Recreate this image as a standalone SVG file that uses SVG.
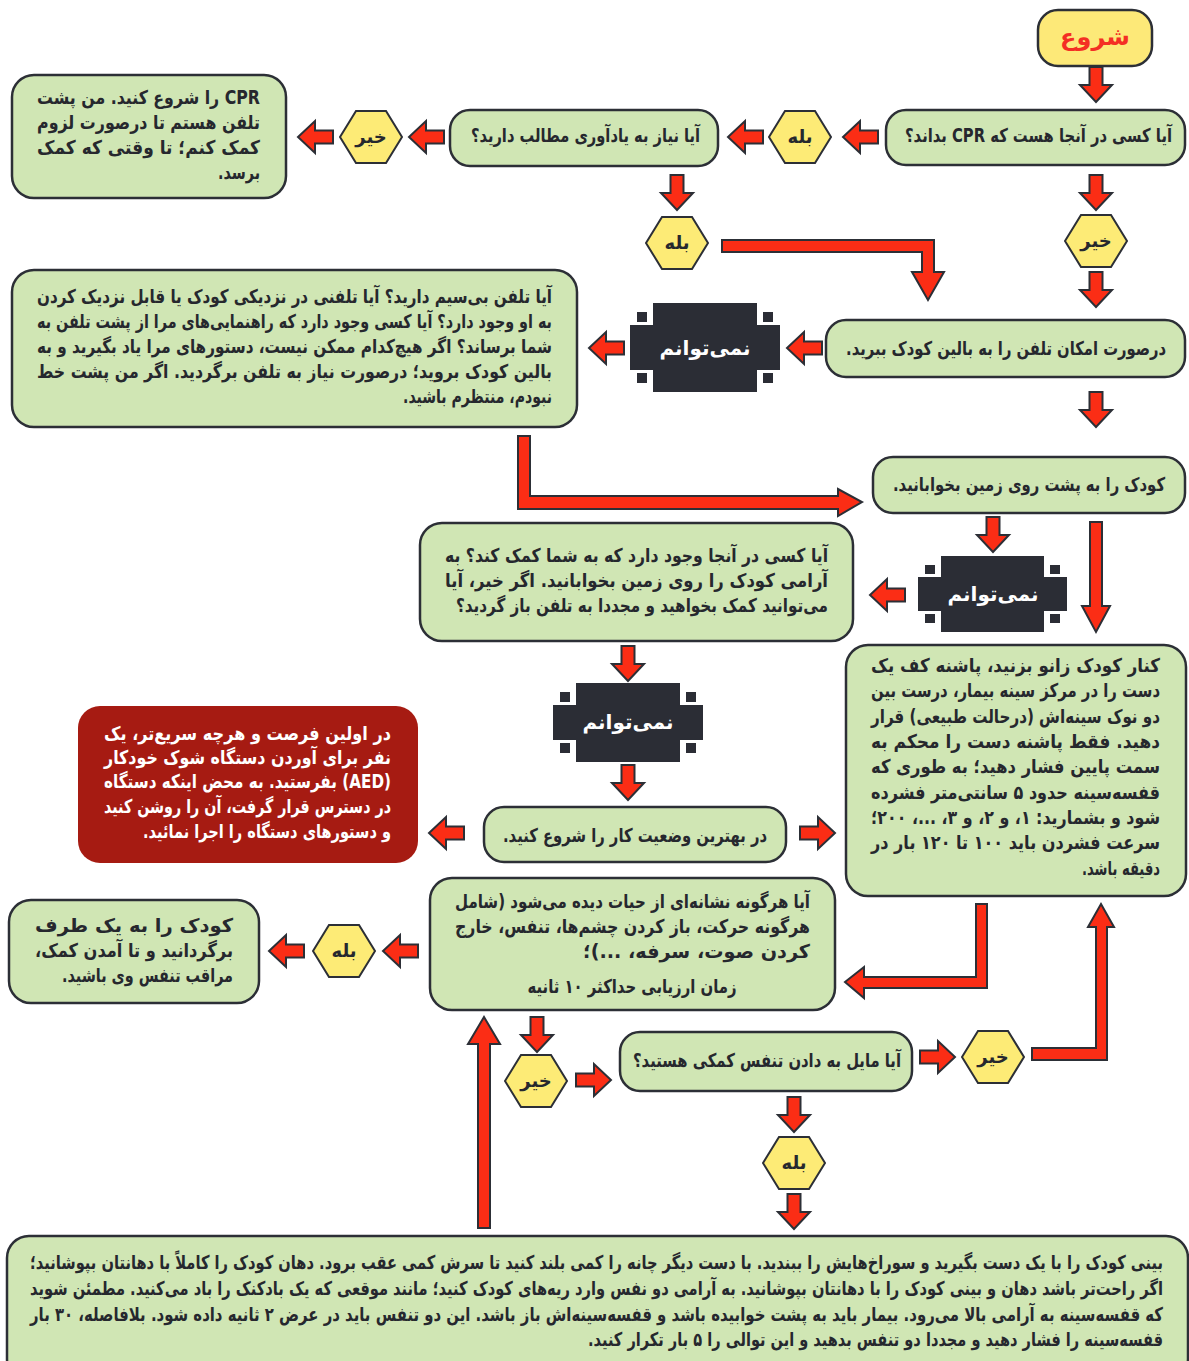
<svg xmlns="http://www.w3.org/2000/svg" xmlns:xlink="http://www.w3.org/1999/xlink" width="1189" height="1361" viewBox="0 0 1189 1361">
<style>
.box{fill:#d0e6b4;stroke:#2c2f36;stroke-width:2.5}
.hex{fill:#fdeb76;stroke:#2c2f36;stroke-width:2}
.dark{fill:#2b2d35}
.ar{fill:#fb2d15;stroke:#2c2f36;stroke-width:2;stroke-linejoin:miter}
.t{font-family:'DejaVu Sans',sans-serif;font-weight:bold;fill:#26282e;direction:rtl}
.p{font-size:19px}
.l{font-size:19px}
.w{fill:#ffffff}
.c{text-anchor:middle}
</style>
<defs>
<path id="arr" d="M0,-6.5 H18 V-16 L35,0 L18,16 V6.5 H0 Z"/>
<polygon id="hx" points="-31,0 -15,-26 15,-26 31,0 15,26 -15,26"/>
</defs>
<rect width="1189" height="1361" fill="#ffffff"/>

<g id="connectors">
<use xlink:href="#arr" class="ar" transform="translate(1096,67) rotate(90)"/>
<use xlink:href="#arr" class="ar" transform="translate(878,137) rotate(180)"/>
<use xlink:href="#arr" class="ar" transform="translate(763,137) rotate(180)"/>
<use xlink:href="#arr" class="ar" transform="translate(444,137) rotate(180)"/>
<use xlink:href="#arr" class="ar" transform="translate(333,137) rotate(180)"/>
<use xlink:href="#arr" class="ar" transform="translate(677,175) rotate(90)"/>
<use xlink:href="#arr" class="ar" transform="translate(1096,175) rotate(90)"/>
<use xlink:href="#arr" class="ar" transform="translate(1096,272) rotate(90)"/>
<use xlink:href="#arr" class="ar" transform="translate(822,348) rotate(180)"/>
<use xlink:href="#arr" class="ar" transform="translate(624,348) rotate(180)"/>
<use xlink:href="#arr" class="ar" transform="translate(1096,392) rotate(90)"/>
<use xlink:href="#arr" class="ar" transform="translate(993,517) rotate(90)"/>
<use xlink:href="#arr" class="ar" transform="translate(905,595) rotate(180)"/>
<use xlink:href="#arr" class="ar" transform="translate(628,646) rotate(90)"/>
<use xlink:href="#arr" class="ar" transform="translate(628,765) rotate(90)"/>
<use xlink:href="#arr" class="ar" transform="translate(464,833) rotate(180)"/>
<use xlink:href="#arr" class="ar" transform="translate(800,833)"/>
<use xlink:href="#arr" class="ar" transform="translate(418,951) rotate(180)"/>
<use xlink:href="#arr" class="ar" transform="translate(304,951) rotate(180)"/>
<use xlink:href="#arr" class="ar" transform="translate(537,1017) rotate(90)"/>
<use xlink:href="#arr" class="ar" transform="translate(576,1080)"/>
<use xlink:href="#arr" class="ar" transform="translate(920,1057)"/>
<use xlink:href="#arr" class="ar" transform="translate(794,1097) rotate(90)"/>
<use xlink:href="#arr" class="ar" transform="translate(794,1194) rotate(90)"/>
<polygon class="ar" points="722,240 934,240 934,272 944,272 928,300 912,272 922,272 922,252 722,252"/>
<polygon class="ar" points="518,436 530,436 530,496 838,496 838,489 862,502 838,516 838,509 518,509"/>
<polygon class="ar" points="987,904 987,988 864,988 864,998 845,982 864,967 864,977 976,977 976,904"/>
<polygon class="ar" points="1032,1048 1096,1048 1096,927 1088,927 1101,904 1114,927 1107,927 1107,1060 1032,1060"/>
<polygon class="ar" points="1102,522 1102,606 1110,606 1096,632 1082,606 1090,606 1090,522"/>
<polygon class="ar" points="478,1228 478,1044 468,1044 484,1017 500,1044 490,1044 490,1228"/>
</g>

<g id="start">
<rect x="1038" y="10" width="114" height="56" rx="20" fill="#fde978" stroke="#2c2f36" stroke-width="2.5"/>
<text class="t c" x="1095" y="45" font-size="24" style="fill:#f42f24">شروع</text>
</g>

<g id="q-cpr">
<rect class="box" x="886" y="110" width="299" height="55" rx="20"/>
<text class="t l" transform="translate(1172,142) scale(0.72,1)" textLength="370.8" lengthAdjust="spacingAndGlyphs">آیا کسی در آنجا هست که CPR بداند؟</text>
</g>

<g id="q-remind">
<rect class="box" x="450" y="110" width="268" height="56" rx="20"/>
<text class="t l" transform="translate(700,142) scale(0.72,1)" textLength="318.1" lengthAdjust="spacingAndGlyphs">آیا نیاز به یادآوری مطالب دارید؟</text>
</g>

<g id="start-cpr">
<rect class="box" x="12" y="75" width="274" height="123" rx="22"/>
<text class="t p" transform="translate(260,104) scale(0.72,1)" textLength="309.7" lengthAdjust="spacingAndGlyphs">CPR را شروع کنید. من پشت</text>
<text class="t p" transform="translate(260,129) scale(0.72,1)" textLength="309.7" lengthAdjust="spacingAndGlyphs">تلفن هستم تا درصورت لزوم</text>
<text class="t p" transform="translate(260,154) scale(0.72,1)" textLength="309.7" lengthAdjust="spacingAndGlyphs">کمک کنم؛ تا وقتی که کمک</text>
<text class="t p" transform="translate(260,179) scale(0.72,1)" textLength="58.3" lengthAdjust="spacingAndGlyphs">برسد.</text>
</g>

<g id="hex-yes1"><use xlink:href="#hx" class="hex" x="800" y="137"/><text class="t c" x="800" y="143" font-size="18">بله</text></g>
<g id="hex-no1"><use xlink:href="#hx" class="hex" x="371" y="137"/><text class="t c" x="371" y="143" font-size="18">خیر</text></g>
<g id="hex-yes2"><use xlink:href="#hx" class="hex" x="677" y="243"/><text class="t c" x="677" y="249" font-size="18">بله</text></g>
<g id="hex-no2"><use xlink:href="#hx" class="hex" x="1096" y="241"/><text class="t c" x="1096" y="247" font-size="18">خیر</text></g>
<g id="hex-yes3"><use xlink:href="#hx" class="hex" x="344" y="951"/><text class="t c" x="344" y="957" font-size="18">بله</text></g>
<g id="hex-no3"><use xlink:href="#hx" class="hex" x="536" y="1081"/><text class="t c" x="536" y="1087" font-size="18">خیر</text></g>
<g id="hex-no4"><use xlink:href="#hx" class="hex" x="993" y="1057"/><text class="t c" x="993" y="1063" font-size="18">خیر</text></g>
<g id="hex-yes4"><use xlink:href="#hx" class="hex" x="794" y="1163"/><text class="t c" x="794" y="1169" font-size="18">بله</text></g>

<g id="phone-bed">
<rect class="box" x="826" y="320" width="359" height="57" rx="20"/>
<text class="t l" transform="translate(1166,355) scale(0.72,1)" textLength="444.4" lengthAdjust="spacingAndGlyphs">درصورت امکان تلفن را به بالین کودک ببرید.</text>
</g>

<g id="cant1">
<rect class="dark" x="653" y="303" width="104" height="89"/>
<rect class="dark" x="630" y="325" width="150" height="45"/>
<rect class="dark" x="637" y="312" width="10" height="10"/>
<rect class="dark" x="763" y="312" width="10" height="10"/>
<rect class="dark" x="637" y="373" width="10" height="10"/>
<rect class="dark" x="763" y="373" width="10" height="10"/>
<text class="t c w" x="705" y="355" font-size="20">نمی&#x200C;توانم</text>
</g>

<g id="phone-q">
<rect class="box" x="12" y="270" width="565" height="157" rx="22"/>
<text class="t p" transform="translate(552,303) scale(0.72,1)" textLength="715.3" lengthAdjust="spacingAndGlyphs">آیا تلفن بی&#x200C;سیم دارید؟ آیا تلفنی در نزدیکی کودک یا قابل نزدیک کردن</text>
<text class="t p" transform="translate(552,328) scale(0.72,1)" textLength="715.3" lengthAdjust="spacingAndGlyphs">به او وجود دارد؟ آیا کسی وجود دارد که راهنمایی&#x200C;های مرا از پشت تلفن به</text>
<text class="t p" transform="translate(552,353) scale(0.72,1)" textLength="715.3" lengthAdjust="spacingAndGlyphs">شما برساند؟ اگر هیچ&#x200C;کدام ممکن نیست، دستورهای مرا یاد بگیرید و به</text>
<text class="t p" transform="translate(552,378) scale(0.72,1)" textLength="715.3" lengthAdjust="spacingAndGlyphs">بالین کودک بروید؛ درصورت نیاز به تلفن برگردید. اگر من پشت خط</text>
<text class="t p" transform="translate(552,403) scale(0.72,1)" textLength="206.9" lengthAdjust="spacingAndGlyphs">نبودم، منتظرم باشید.</text>
</g>

<g id="lay-down">
<rect class="box" x="873" y="457" width="312" height="56" rx="20"/>
<text class="t l" transform="translate(1165,491) scale(0.72,1)" textLength="377.8" lengthAdjust="spacingAndGlyphs">کودک را به پشت روی زمین بخوابانید.</text>
</g>

<g id="cant2">
<rect class="dark" x="941" y="556" width="103" height="76"/>
<rect class="dark" x="918" y="577" width="149" height="34"/>
<rect class="dark" x="925" y="565" width="10" height="9"/>
<rect class="dark" x="1050" y="565" width="10" height="9"/>
<rect class="dark" x="925" y="614" width="10" height="9"/>
<rect class="dark" x="1050" y="614" width="10" height="9"/>
<text class="t c w" x="993" y="601" font-size="20">نمی&#x200C;توانم</text>
</g>

<g id="help-q">
<rect class="box" x="420" y="523" width="433" height="118" rx="22"/>
<text class="t p" transform="translate(828,562) scale(0.72,1)" textLength="531.9" lengthAdjust="spacingAndGlyphs">آیا کسی در آنجا وجود دارد که به شما کمک کند؟ به</text>
<text class="t p" transform="translate(828,587) scale(0.72,1)" textLength="531.9" lengthAdjust="spacingAndGlyphs">آرامی کودک را روی زمین بخوابانید. اگر خیر، آیا</text>
<text class="t p" transform="translate(828,612) scale(0.72,1)" textLength="516.7" lengthAdjust="spacingAndGlyphs">می&#x200C;توانید کمک بخواهید و مجددا به تلفن باز گردید؟</text>
</g>

<g id="compress">
<rect class="box" x="846" y="645" width="340" height="251" rx="22"/>
<text class="t p" transform="translate(1160,672) scale(0.72,1)" textLength="401.4" lengthAdjust="spacingAndGlyphs">کنار کودک زانو بزنید، پاشنه کف یک</text>
<text class="t p" transform="translate(1160,697) scale(0.72,1)" textLength="401.4" lengthAdjust="spacingAndGlyphs">دست را در مرکز سینه بیمار، درست بین</text>
<text class="t p" transform="translate(1160,723) scale(0.72,1)" textLength="401.4" lengthAdjust="spacingAndGlyphs">دو نوک سینه&#x200C;اش (درحالت طبیعی) قرار</text>
<text class="t p" transform="translate(1160,748) scale(0.72,1)" textLength="401.4" lengthAdjust="spacingAndGlyphs">دهید. فقط پاشنه دست را محکم به</text>
<text class="t p" transform="translate(1160,773) scale(0.72,1)" textLength="401.4" lengthAdjust="spacingAndGlyphs">سمت پایین فشار دهید؛ به طوری که</text>
<text class="t p" transform="translate(1160,799) scale(0.72,1)" textLength="401.4" lengthAdjust="spacingAndGlyphs">قفسه&#x200C;سینه حدود ۵ سانتی&#x200C;متر فشرده</text>
<text class="t p" transform="translate(1160,824) scale(0.72,1)" textLength="401.4" lengthAdjust="spacingAndGlyphs">شود و بشمارید: ۱، و ۲، و ۳، ...، ۲۰۰؛</text>
<text class="t p" transform="translate(1160,849) scale(0.72,1)" textLength="401.4" lengthAdjust="spacingAndGlyphs">سرعت فشردن باید ۱۰۰ تا ۱۲۰ بار در</text>
<text class="t p" transform="translate(1160,875) scale(0.72,1)" textLength="108.3" lengthAdjust="spacingAndGlyphs">دقیقه باشد.</text>
</g>

<g id="cant3">
<rect class="dark" x="576" y="683" width="104" height="79"/>
<rect class="dark" x="553" y="705" width="150" height="35"/>
<rect class="dark" x="560" y="692" width="10" height="10"/>
<rect class="dark" x="686" y="692" width="10" height="10"/>
<rect class="dark" x="560" y="743" width="10" height="10"/>
<rect class="dark" x="686" y="743" width="10" height="10"/>
<text class="t c w" x="628" y="729" font-size="20">نمی&#x200C;توانم</text>
</g>

<g id="aed">
<rect x="78" y="706" width="340" height="157" rx="22" fill="#a61b12"/>
<text class="t p w" transform="translate(391,740) scale(0.72,1)" textLength="398.6" lengthAdjust="spacingAndGlyphs">در اولین فرصت و هرچه سریع&#x200C;تر، یک</text>
<text class="t p w" transform="translate(391,764) scale(0.72,1)" textLength="398.6" lengthAdjust="spacingAndGlyphs">نفر برای آوردن دستگاه شوک خودکار</text>
<text class="t p w" transform="translate(391,788) scale(0.72,1)" textLength="398.6" lengthAdjust="spacingAndGlyphs">(AED) بفرستید. به محض اینکه دستگاه</text>
<text class="t p w" transform="translate(391,813) scale(0.72,1)" textLength="398.6" lengthAdjust="spacingAndGlyphs">در دسترس قرار گرفت، آن را روشن کنید</text>
<text class="t p w" transform="translate(391,838) scale(0.72,1)" textLength="344.4" lengthAdjust="spacingAndGlyphs">و دستورهای دستگاه را اجرا نمائید.</text>
</g>

<g id="best-pos">
<rect class="box" x="484" y="807" width="302" height="55" rx="20"/>
<text class="t l" transform="translate(767,842) scale(0.72,1)" textLength="366.7" lengthAdjust="spacingAndGlyphs">در بهترین وضعیت کار را شروع کنید.</text>
</g>

<g id="signs">
<rect class="box" x="430" y="878" width="405" height="132" rx="22"/>
<text class="t p" transform="translate(810,908) scale(0.72,1)" textLength="493.1" lengthAdjust="spacingAndGlyphs">آیا هرگونه نشانه&#x200C;ای از حیات دیده می&#x200C;شود (شامل</text>
<text class="t p" transform="translate(810,933) scale(0.72,1)" textLength="493.1" lengthAdjust="spacingAndGlyphs">هرگونه حرکت، باز کردن چشم&#x200C;ها، تنفس، خارج</text>
<text class="t p" transform="translate(810,958) scale(0.72,1)" textLength="315.3" lengthAdjust="spacingAndGlyphs">کردن صوت، سرفه، ...)؛</text>
<text class="t p c" transform="translate(632,993) scale(0.72,1)" textLength="290.3" lengthAdjust="spacingAndGlyphs">زمان ارزیابی حداکثر ۱۰ ثانیه</text>
</g>

<g id="recovery">
<rect class="box" x="9" y="900" width="250" height="103" rx="22"/>
<text class="t p" transform="translate(233,932) scale(0.72,1)" textLength="275" lengthAdjust="spacingAndGlyphs">کودک را به یک طرف</text>
<text class="t p" transform="translate(233,957) scale(0.72,1)" textLength="275" lengthAdjust="spacingAndGlyphs">برگردانید و تا آمدن کمک،</text>
<text class="t p" transform="translate(233,982) scale(0.72,1)" textLength="237.5" lengthAdjust="spacingAndGlyphs">مراقب تنفس وی باشید.</text>
</g>

<g id="breath-q">
<rect class="box" x="620" y="1032" width="292" height="59" rx="20"/>
<text class="t l" transform="translate(901,1067) scale(0.72,1)" textLength="372.2" lengthAdjust="spacingAndGlyphs">آیا مایل به دادن تنفس کمکی هستید؟</text>
</g>

<g id="rescue-breath">
<rect class="box" x="7" y="1236" width="1181" height="145" rx="22"/>
<text class="t p" transform="translate(1163,1269) scale(0.72,1)" textLength="1573.6" lengthAdjust="spacingAndGlyphs">بینی کودک را با یک دست بگیرید و سوراخ&#x200C;هایش را ببندید. با دست دیگر چانه را کمی بلند کنید تا سرش کمی عقب برود. دهان کودک را کاملاً با دهانتان بپوشانید؛</text>
<text class="t p" transform="translate(1163,1295) scale(0.72,1)" textLength="1573.6" lengthAdjust="spacingAndGlyphs">اگر راحت&#x200C;تر باشد دهان و بینی کودک را با دهانتان بپوشانید. به آرامی دو نفس وارد ریه&#x200C;های کودک کنید؛ مانند موقعی که یک بادکنک را باد می&#x200C;کنید. مطمئن شوید</text>
<text class="t p" transform="translate(1163,1321) scale(0.72,1)" textLength="1573.6" lengthAdjust="spacingAndGlyphs">که قفسه&#x200C;سینه به آرامی بالا می&#x200C;رود. بیمار باید به پشت خوابیده باشد و قفسه&#x200C;سینه&#x200C;اش باز باشد. این دو تنفس باید در عرض ۲ ثانیه داده شود. بلافاصله، ۳۰ بار</text>
<text class="t p" transform="translate(1163,1346) scale(0.72,1)" textLength="798.6" lengthAdjust="spacingAndGlyphs">قفسه&#x200C;سینه را فشار دهید و مجددا دو تنفس بدهید و این توالی را ۵ بار تکرار کنید.</text>
</g>
</svg>
